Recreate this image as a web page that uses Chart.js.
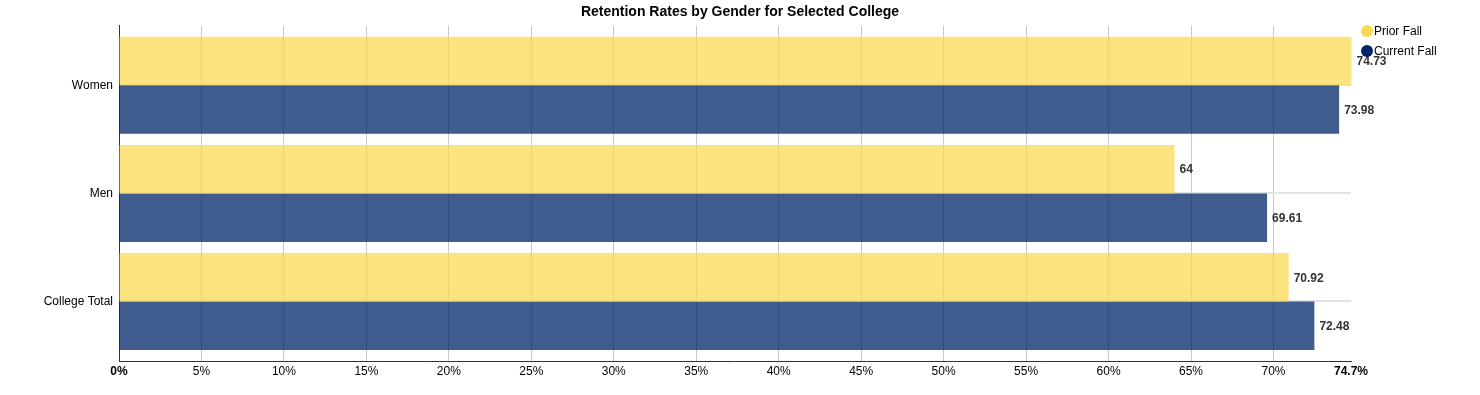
<!DOCTYPE html>
<html>
<head>
<meta charset="utf-8">
<script src="https://cdn.jsdelivr.net/npm/chart.js@4/dist/chart.umd.min.js"></script>
<style>
  html, body { margin: 0; padding: 0; background: #fff; }
  #wrap { width: 1480px; height: 395px; position: relative; }
</style>
</head>
<body>
<div id="wrap"><canvas id="c"></canvas></div>
<script>
const categories = ["Women", "Men", "College Total"];
const priorFall = [74.73, 64, 70.92];
const currentFall = [73.98, 69.61, 72.48];
const seriesNames = ["Prior Fall", "Current Fall"];
const xTickValues = [0, 5, 10, 15, 20, 25, 30, 35, 40, 45, 50, 55, 60, 65, 70, 74.7];
const titleText = "Retention Rates by Gender for Selected College";

const FONT = '"Liberation Sans", Arial, Helvetica, sans-serif';
Chart.defaults.font.family = FONT;
Chart.defaults.font.size = 12;
Chart.defaults.color = '#000';

const barColors = ['rgba(252,217,85,0.75)', 'rgba(0,37,104,0.75)'];
const dotColors = ['rgb(252,217,85)', 'rgb(0,37,104)'];

const valueLabels = {
  id: 'valueLabels',
  afterDatasetsDraw(chart) {
    const ctx = chart.ctx;
    ctx.save();
    ctx.font = 'bold 12px ' + FONT;
    ctx.fillStyle = '#333';
    ctx.textAlign = 'left';
    ctx.textBaseline = 'middle';
    chart.data.datasets.forEach((ds, di) => {
      const meta = chart.getDatasetMeta(di);
      meta.data.forEach((bar, i) => {
        ctx.fillText(String(ds.data[i].x), bar.x + 5, bar.y + 1);
      });
    });
    ctx.restore();
  }
};

const cornerLegend = {
  id: 'cornerLegend',
  afterDraw(chart) {
    const ctx = chart.ctx;
    ctx.save();
    ctx.font = '12px ' + FONT;
    ctx.textAlign = 'left';
    ctx.textBaseline = 'middle';
    chart.data.datasets.forEach((ds, di) => {
      const cx = chart.chartArea.right + 16;
      const cy = 31 + di * 20;
      ctx.beginPath();
      ctx.arc(cx, cy, 6, 0, Math.PI * 2);
      ctx.fillStyle = dotColors[di];
      ctx.fill();
      ctx.fillStyle = '#000';
      ctx.fillText(ds.label, cx + 7, cy + 0.5);
    });
    ctx.restore();
  }
};

const lastX = xTickValues.length - 1;

new Chart(document.getElementById('c'), {
  type: 'bar',
  data: {
    datasets: [
      { label: seriesNames[0], data: priorFall.map((v, i) => ({ x: v, y: i })), backgroundColor: barColors[0], clip: false },
      { label: seriesNames[1], data: currentFall.map((v, i) => ({ x: v, y: i })), backgroundColor: barColors[1], clip: false }
    ]
  },
  options: {
    indexAxis: 'y',
    responsive: true,
    maintainAspectRatio: false,
    animation: false,
    categoryPercentage: 0.898,
    barPercentage: 1,
    layout: { padding: 0 },
    plugins: {
      legend: { display: false },
      tooltip: { enabled: false },
      title: {
        display: true,
        text: titleText,
        color: '#000',
        font: { size: 14, weight: 'bold', family: FONT },
        padding: { top: 4, bottom: 5 }
      }
    },
    scales: {
      x: {
        type: 'linear',
        min: 0,
        max: 74.7,
        afterBuildTicks(scale) { scale.ticks = xTickValues.map(v => ({ value: v })); },
        afterFit(scale) { scale.height = 34; },
        ticks: {
          autoSkip: false,
          maxRotation: 0,
          padding: 3,
          color: '#000',
          callback: (v) => v + '%',
          font: (ctx) => ({ size: 12, family: FONT, weight: (ctx.index === 0 || ctx.index === lastX) ? 'bold' : 'normal' })
        },
        grid: {
          drawTicks: false,
          lineWidth: 1,
          color: (ctx) => ctx.index === lastX ? 'rgba(0,0,0,0)' : '#c8c8c8'
        },
        border: { display: true, color: '#333', width: 1 }
      },
      y: {
        type: 'linear',
        reverse: true,
        offset: false,
        min: -0.551,
        max: 2.551,
        afterBuildTicks(scale) { scale.ticks = categories.map((c, i) => ({ value: i })); },
        afterFit(scale) { scale.width = 119; },
        ticks: {
          autoSkip: false,
          padding: 6,
          color: '#000',
          font: { size: 12, family: FONT },
          callback: (v) => categories[v]
        },
        grid: {
          offset: false,
          drawTicks: false,
          lineWidth: 2,
          color: '#e2e2e2'
        },
        border: { display: true, color: '#333', width: 1 }
      },
      legendSpace: {
        type: 'linear',
        position: 'right',
        axis: 'y',
        min: 0,
        max: 1,
        afterFit(scale) { scale.width = 129; },
        ticks: { display: false },
        grid: { display: false, drawTicks: false },
        border: { display: false }
      }
    }
  },
  plugins: [valueLabels, cornerLegend]
});
</script>
</body>
</html>
